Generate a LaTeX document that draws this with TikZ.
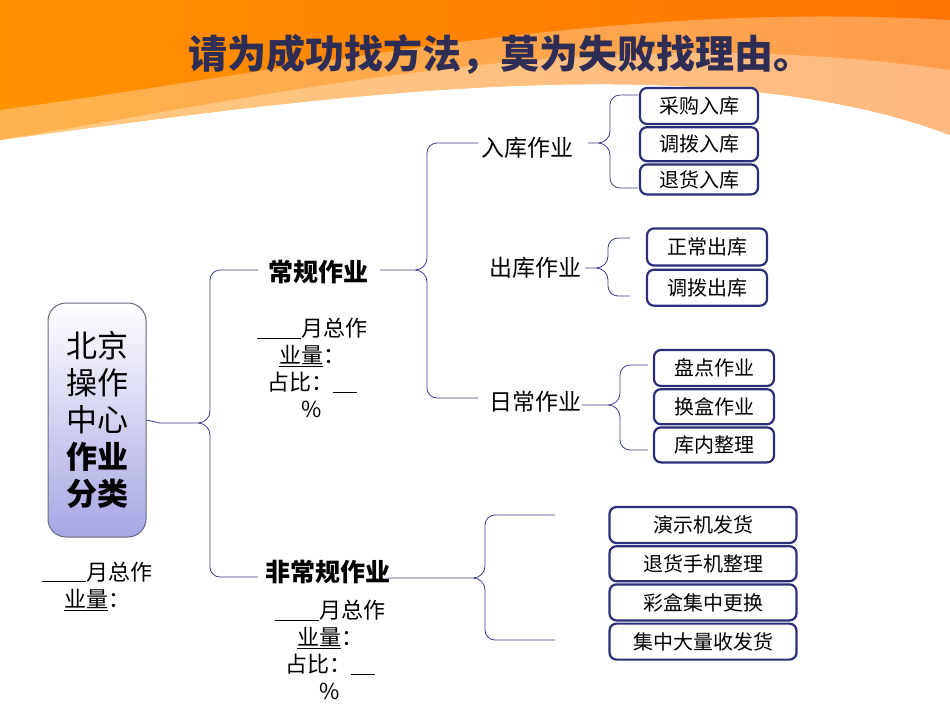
\documentclass[tikz,border=0pt]{standalone}
\usepackage{fontspec}
\setmainfont{Noto Sans CJK SC}
\usetikzlibrary{positioning}

\definecolor{navy}{HTML}{2B2F7A}
\definecolor{bracecol}{HTML}{3B3F8F}
\definecolor{lav}{HTML}{A6A6E4}
\definecolor{titlecol}{HTML}{2D2D55}

\tikzset{
  leaf/.style={draw=navy, line width=2.2pt, rounded corners=7pt, fill=white,
    font=\fontsize{20}{20}\selectfont, inner sep=0pt},
  branch/.style={font=\fontsize{23}{23}\selectfont, inner sep=1pt},
  main/.style={font=\bfseries\fontsize{25}{25}\selectfont, inner sep=1pt},
  note/.style={font=\fontsize{22}{27}\selectfont, align=center, inner sep=0pt},
  brace/.style={draw=bracecol, line width=0.8pt}
}
% brace from a tip to an x level, spanning top and bottom ends
\newcommand\bracepath[5]{%
  \draw[brace] (#2,#4) -- (#1+10,#4) to[out=180,in=90] (#1,#4+10)
    -- (#1,#3-12) to[out=-90,in=0] (#1-12,#3) -- (#3-pos) -- (#1-12,#3) to[out=0,in=90] (#1,#3+12)
    -- (#1,#5-10) to[out=-90,in=180] (#1+10,#5) -- (#2,#5);}

\begin{document}
\begin{tikzpicture}[x=1pt,y=-1pt]
  \useasboundingbox (0,0) rectangle (950,713);
  % background banner
  \fill[white] (0,0) rectangle (950,713);
  \shade[left color=orange!85!yellow, middle color=yellow!25, right color=orange!90!red]
    (0,0) -- (950,0) -- (950,135) .. controls (700,40) and (300,100) .. (0,140) -- cycle;
  \fill[white, opacity=0.5] (0,140) .. controls (300,90) and (600,20) .. (950,70)
    -- (950,135) .. controls (700,40) and (300,100) .. (0,140);
  \fill[white, opacity=0.3] (0,110) .. controls (300,70) and (600,0) .. (950,20)
    -- (950,70) .. controls (600,20) and (300,90) .. (0,140) -- cycle;

  % title
  \node[font=\bfseries\fontsize{39}{39}\selectfont, text=titlecol] (title)
    at (500,55) {请为成功找方法，莫为失败找理由。};

  % root
  \node[draw=gray!70!navy, line width=1pt, rounded corners=18pt, top color=white,
    bottom color=lav, minimum width=98pt, minimum height=234pt, align=center,
    font=\fontsize{31}{37}\selectfont] (root) at (97,420)
    {北京\\操作\\中心\\\textbf{作业}\\\textbf{分类}};
  \node[note] (rootnote) at (97,586) {\underline{\hspace{44pt}}月总作\\\underline{业量}：\hspace{20pt}};

  % first level
  \node[main] (regular) at (318,272) {常规作业};
  \node[main] (irregular) at (328,572) {非常规作业};
  \node[note] (regnote) at (312,368)
    {\underline{\hspace{44pt}}月总作\\\underline{业量}：\hspace{10pt}\\占比：\underline{\hspace{24pt}}\\\%};
  \node[note] (irrnote) at (330,650)
    {\underline{\hspace{44pt}}月总作\\\underline{业量}：\hspace{10pt}\\占比：\underline{\hspace{24pt}}\\\%};
  \coordinate (423-pos) at (160,423);
  \draw[brace] (root.east) -- (423-pos);
  \bracepath{210}{258}{423}{270}{577}

  % second level
  \node[branch] (inbound) at (527,148) {入库作业};
  \node[branch] (outbound) at (535,268) {出库作业};
  \node[branch] (daily) at (535,402) {日常作业};
  \coordinate (270-pos) at (380,270);
  \bracepath{427}{478}{270}{143}{398}

  % leaves
  \node[leaf, minimum width=118pt, minimum height=36pt] (buyin) at (699,106) {采购入库};
  \node[leaf, minimum width=118pt, minimum height=34pt, below=1pt of buyin] (movein) {调拨入库};
  \node[leaf, minimum width=118pt, minimum height=30pt, below=1pt of movein] (returnin) {退货入库};
  \coordinate (143-pos) at (588,143);
  \bracepath{610}{638}{143}{95}{188}

  \node[leaf, minimum width=120pt, minimum height=37pt] (normout) at (707,247) {正常出库};
  \node[leaf, minimum width=120pt, minimum height=36pt, below=2pt of normout] (moveout) {调拨出库};
  \coordinate (268-pos) at (585,268);
  \bracepath{608}{630}{268}{238}{296}

  \node[leaf, minimum width=120pt, minimum height=36pt] (count) at (714,368) {盘点作业};
  \node[leaf, minimum width=120pt, minimum height=35pt, below=1pt of count] (swap) {换盒作业};
  \node[leaf, minimum width=120pt, minimum height=35pt, below=1pt of swap] (tidy) {库内整理};
  \coordinate (405-pos) at (582,405);
  \bracepath{620}{648}{405}{365}{450}

  \node[leaf, minimum width=187pt, minimum height=36pt] (demo) at (703,525) {演示机发货};
  \node[leaf, minimum width=187pt, minimum height=35pt, below=1pt of demo] (phones) {退货手机整理};
  \node[leaf, minimum width=187pt, minimum height=36pt, below=1pt of phones] (boxes) {彩盒集中更换};
  \node[leaf, minimum width=187pt, minimum height=36pt, below=1pt of boxes] (bulk) {集中大量收发货};
  \coordinate (578-pos) at (388,578);
  \bracepath{485}{555}{578}{515}{640}
\end{tikzpicture}
\end{document}
